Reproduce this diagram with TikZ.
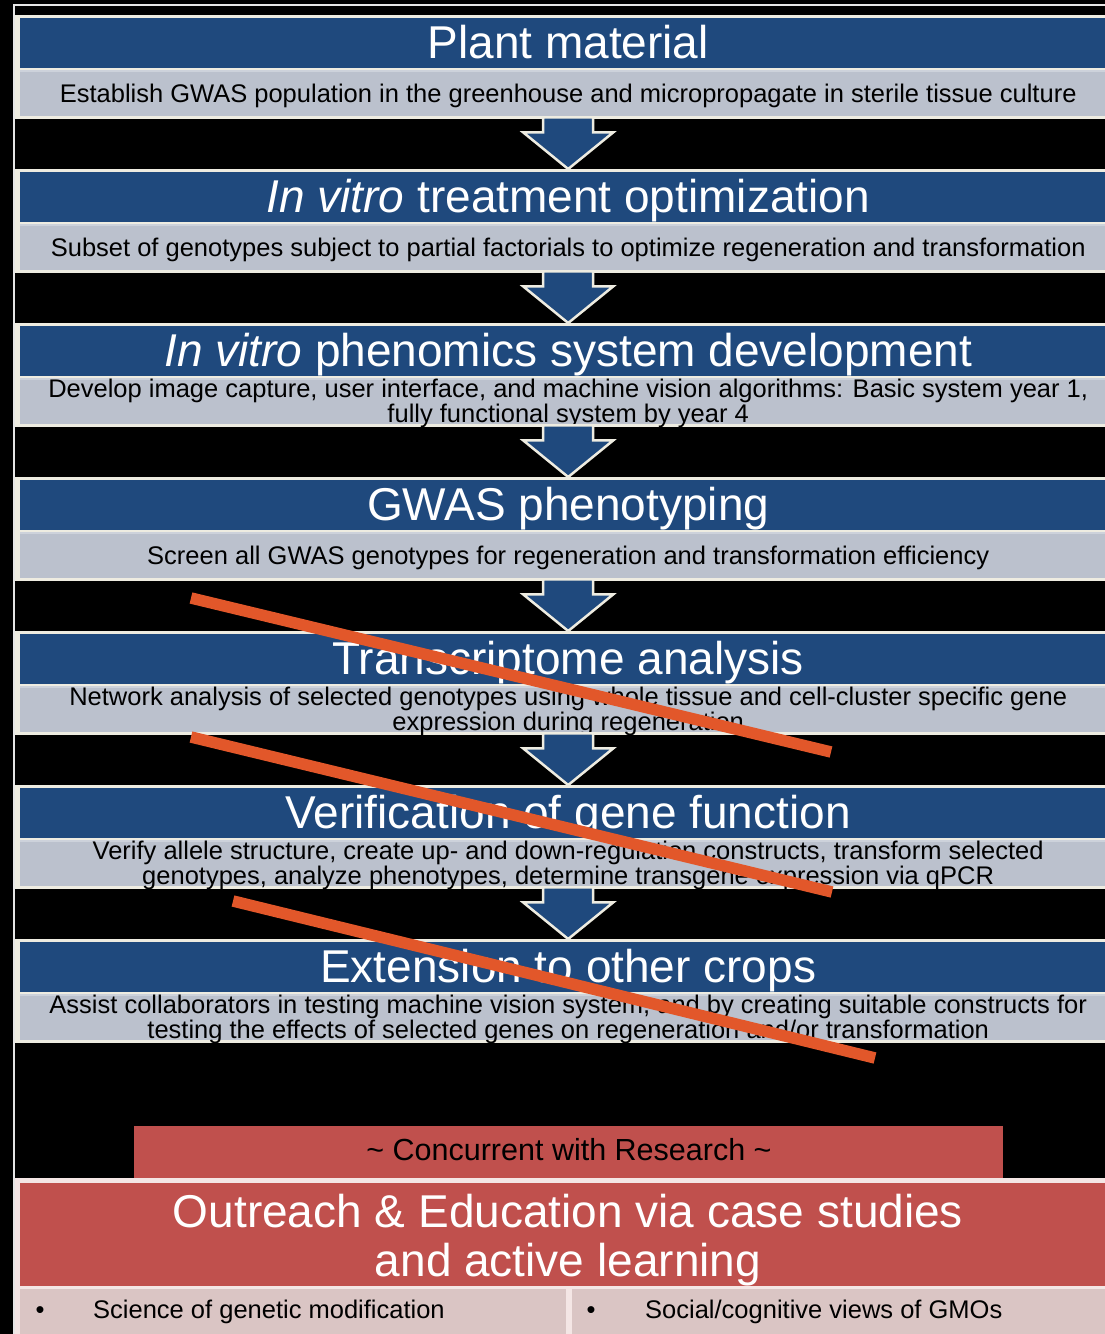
\documentclass[tikz,border=0pt]{standalone}
\usepackage{fontspec}
\setmainfont{Liberation Sans}
\usetikzlibrary{calc}
\definecolor{hdrblue}{HTML}{1F497D}
\definecolor{descgray}{HTML}{BBC1CD}
\definecolor{graylight}{HTML}{CDD2DB}
\definecolor{creamedge}{HTML}{EEECE1}
\definecolor{redbox}{HTML}{C0504D}
\definecolor{pinkbox}{HTML}{DAC5C4}
\definecolor{pinkedge}{HTML}{F4E6E5}
\definecolor{strike}{HTML}{E2572A}
\definecolor{frameline}{HTML}{E6E6E6}

\tikzset{
 blockbox/.style={fill=creamedge, draw=none, inner sep=0pt, minimum width=1106pt, minimum height=104pt, anchor=north west},
 hdrbox/.style={fill=hdrblue, inner sep=0pt, minimum width=1096pt, minimum height=50pt, anchor=north west, text=white, font=\fontsize{46}{50}\selectfont, text height=34pt, text depth=4pt},
 descbox/.style={fill=descgray, inner sep=0pt, minimum width=1096pt, minimum height=46pt, anchor=north west},
 desctext/.style={inner sep=0pt, text=black, font=\fontsize{25.5}{22}\selectfont, align=center},
 flowarrow/.style={fill=hdrblue, draw=creamedge, line width=2.5pt, line join=miter},
 strikeline/.style={draw=strike, line width=11.5pt},
 pinkcell/.style={fill=pinkbox, anchor=north west, minimum height=50pt, inner sep=0pt},
 celltext/.style={font=\fontsize{25.5}{28}\selectfont, text=black, inner sep=0pt},
}

\newcommand{\flowblock}[4]{%
 \node[blockbox] (b#1) at (15,#2) {};
 \node[hdrbox] (h#1) at (20,#2+3) {#3};
 \node[descbox] (d#1) at (20,#2+55) {};
 \draw[graylight, line width=2pt] ($(d#1.north west)+(0,1)$) -- ($(d#1.north east)+(0,1)$);
 \node[desctext] (dt#1) at ($(d#1.center)+(0,2.5)$) {#4};
}
\newcommand{\flowarrowbetween}[2]{%
 \draw[flowarrow] ($(b#1.south)+(-25,-2)$) -- ($(b#1.south)+(25,-2)$) -- ($(b#1.south)+(25,13)$) -- ($(b#1.south)+(45,13)$) -- (b#2.north) -- ($(b#1.south)+(-45,13)$) -- ($(b#1.south)+(-25,13)$) -- cycle;
}

\begin{document}
\begin{tikzpicture}[x=1pt,y=-1pt]
\useasboundingbox (0,0) rectangle (1105,1334);
\fill[black] (0,0) rectangle (1105,1334);
\draw[frameline, line width=1.5pt] (14,1334) -- (14,5) -- (1105,5);

\flowblock{1}{15}{Plant material}{Establish GWAS population in the greenhouse and micropropagate in sterile tissue culture}
\flowblock{2}{169}{\textit{In vitro} treatment optimization}{Subset of genotypes subject to partial factorials to optimize regeneration and transformation}
\flowblock{3}{323}{\textit{In vitro} phenomics system development}{Develop image capture, user interface, and machine vision algorithms: Basic system year 1,\\ fully functional system by year 4}
\flowblock{4}{477}{GWAS phenotyping}{Screen all GWAS genotypes for regeneration and transformation efficiency}
\flowblock{5}{631}{Transcriptome analysis}{Network analysis of selected genotypes using whole tissue and cell-cluster specific gene\\ expression during regeneration}
\flowblock{6}{785}{Verification of gene function}{Verify allele structure, create up- and down-regulation constructs, transform selected\\ genotypes, analyze phenotypes, determine transgene expression via qPCR}
\flowblock{7}{939}{Extension to other crops}{Assist collaborators in testing machine vision system, and by creating suitable constructs for\\ testing the effects of selected genes on regeneration and/or transformation}

\flowarrowbetween{1}{2}
\flowarrowbetween{2}{3}
\flowarrowbetween{3}{4}
\flowarrowbetween{4}{5}
\flowarrowbetween{5}{6}
\flowarrowbetween{6}{7}

% outreach section
\node[fill=redbox, anchor=north west, minimum width=869pt, minimum height=53pt, inner sep=0pt] (conc) at (134,1126) {};
\node[font=\fontsize{30.5}{33}\selectfont, text=black, inner sep=0pt, anchor=base] (conctext) at (569,1160.5) {\textasciitilde{} Concurrent with Research \textasciitilde};
\node[fill=pinkedge, anchor=north west, minimum width=1106pt, minimum height=170pt, inner sep=0pt] (ob) at (15,1178) {};
\node[fill=redbox, anchor=north west, minimum width=1096pt, minimum height=103pt, inner sep=0pt] (oh) at (20,1183) {};
\node[text=white, font=\fontsize{46}{49}\selectfont, align=center, inner sep=0pt] (ot) at (568,1240.5) {Outreach \& Education via case studies\\and active learning};
\node[pinkcell, minimum width=546pt] (p1) at (20,1289) {};
\node[pinkcell, minimum width=544pt] (p2) at (572,1289) {};
\node[celltext, anchor=base] (bl1) at (40,1318) {\textbullet};
\node[celltext, anchor=base west] (t1) at (93,1318) {Science of genetic modification};
\node[celltext, anchor=base] (bl2) at (591,1318) {\textbullet};
\node[celltext, anchor=base west] (t2) at (645,1318) {Social/cognitive views of GMOs};

% strike-through lines
\draw[strikeline] (191,598) -- (831,752);
\draw[strikeline] (191,737) -- (832,892);
\draw[strikeline] (233,901) -- (875,1058);
\end{tikzpicture}
\end{document}
